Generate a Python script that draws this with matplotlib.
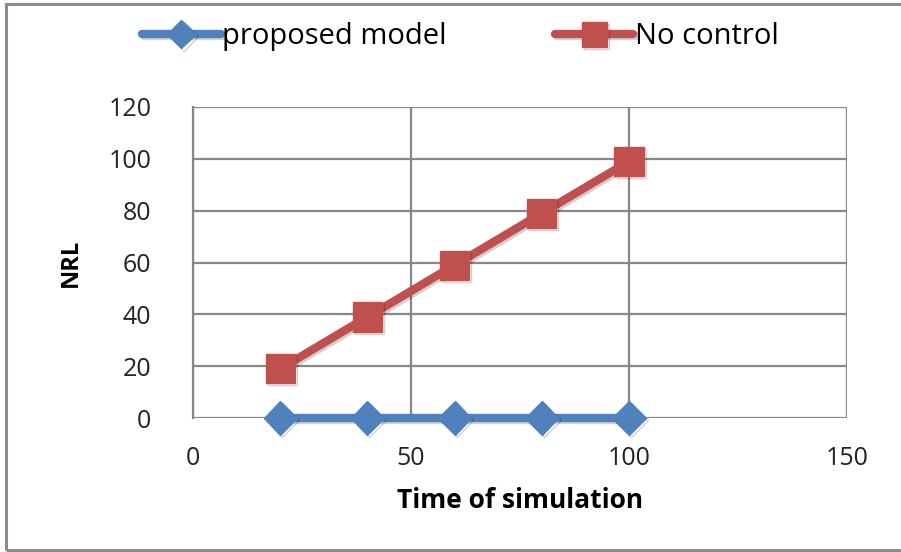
import matplotlib.pyplot as plt
import matplotlib.patheffects as pe
from matplotlib.patches import Rectangle

# data
time_sim = [20, 40, 60, 80, 100]
nrl_proposed = [0, 0, 0, 0, 0]
nrl_no_control = [19, 39, 59, 79, 99]

x_ticks = [0, 50, 100, 150]
y_ticks = [0, 20, 40, 60, 80, 100, 120]

plt.rcParams['font.family'] = ['Open Sans', 'DejaVu Sans']

fig = plt.figure(figsize=(9.01, 5.52), dpi=100)
ax = fig.add_axes([193 / 901, 1 - 418 / 552, (847 - 193) / 901, (418 - 107) / 552])

# outer frame of the chart
fig.patches.append(Rectangle((6 / 901, 2 / 552), 1.0, 546 / 552, transform=fig.transFigure,
                             fill=False, edgecolor='#8c8c8c', linewidth=2.2))

shadow = [pe.SimpleLineShadow(offset=(1.5, -1.5), alpha=0.18, shadow_color='black'), pe.Normal()]

blue = '#4f81bd'
red = '#c0504d'
l1, = ax.plot(time_sim, nrl_proposed, color=blue, linewidth=6, marker='D', markersize=17,
              solid_capstyle='round', label='proposed model', zorder=3, clip_on=False,
              path_effects=shadow)
l2, = ax.plot(time_sim, nrl_no_control, color=red, linewidth=6, marker='s', markersize=21,
              solid_capstyle='round', label='No control', zorder=4, clip_on=False,
              path_effects=shadow)

ax.set_xlim(0, 150)
ax.set_ylim(0, 120)
ax.set_xticks(x_ticks)
ax.set_yticks(y_ticks)
ax.grid(True, color='#878787', linewidth=1.6)
ax.set_axisbelow(True)
for side in ['top', 'right', 'bottom']:
    ax.spines[side].set_visible(False)
ax.spines['left'].set_color('#878787')
ax.spines['left'].set_linewidth(1.6)
ax.tick_params(length=0, labelsize=18, colors='#222222')
ax.tick_params(axis='x', pad=20)
ax.tick_params(axis='y', pad=30)

ax.set_xlabel('Time of simulation', fontsize=19, fontweight='bold', labelpad=12)
ax.set_ylabel('NRL', fontsize=17, fontweight='bold', labelpad=18)

fig.legend(handles=[l1, l2], loc='center', bbox_to_anchor=(0.511, 1 - 37 / 552), ncol=2,
           frameon=False, fontsize=21, handlelength=2.7, handletextpad=0.05,
           columnspacing=3.7, markerscale=0.85)

fig.savefig('out.png', dpi=100)
